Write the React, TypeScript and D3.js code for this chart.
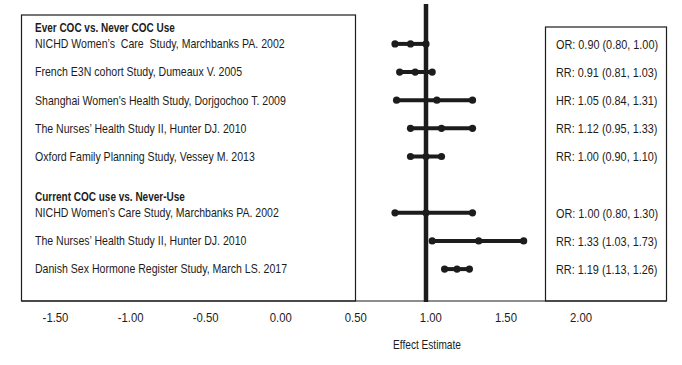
import * as d3 from 'd3'

const groupTitles = ['Ever COC vs. Never COC Use', 'Current COC use vs. Never-Use']
const studies = [
  'NICHD Women’s  Care  Study, Marchbanks PA. 2002',
  'French E3N cohort Study, Dumeaux V. 2005',
  'Shanghai Women\'s Health Study, Dorjgochoo T. 2009',
  'The Nurses’ Health Study II, Hunter DJ. 2010',
  'Oxford Family Planning Study, Vessey M. 2013',
  'NICHD Women’s Care Study, Marchbanks PA. 2002',
  'The Nurses’ Health Study II, Hunter DJ. 2010',
  'Danish Sex Hormone Register Study, March LS. 2017',
]
const studyGroup = [0, 0, 0, 0, 0, 1, 1, 1]
// plotted positions
const lower = [0.80, 0.83, 0.81, 0.90, 0.90, 0.80, 1.04, 1.12]
const point = [0.90, 0.93, 1.07, 1.10, 1.00, 1.00, 1.34, 1.20]
const upper = [1.00, 1.04, 1.30, 1.30, 1.10, 1.30, 1.63, 1.28]
const estimateLabels = [
  'OR: 0.90 (0.80, 1.00)',
  'RR: 0.91 (0.81, 1.03)',
  'HR: 1.05 (0.84, 1.31)',
  'RR: 1.12 (0.95, 1.33)',
  'RR: 1.00 (0.90, 1.10)',
  'OR: 1.00 (0.80, 1.30)',
  'RR: 1.33 (1.03, 1.73)',
  'RR: 1.19 (1.13, 1.26)',
]
const tickValues = [-1.5, -1, -0.5, 0, 0.5, 1, 1.5, 2]
const refValue = 1
const axisTitle = 'Effect Estimate'

const W = 682
const H = 365
// Liberation Sans squeezed horizontally ~ Arial Narrow look
const font = '"Liberation Sans", Arial, sans-serif'
const ink = '#1c1c1c'

type NProps = {
  x: number
  y: number
  sx: number
  size: number
  anchor?: 'start' | 'middle' | 'end'
  bold?: boolean
  central?: boolean
  children: string
}

function NText({ x, y, sx, size, anchor = 'start', bold = false, central = false, children }: NProps) {
  return (
    <text transform={`translate(${x},${y}) scale(${sx},1)`} textAnchor={anchor}
      dominantBaseline={central ? 'central' : undefined}
      fontFamily={font} fontSize={size} fontWeight={bold ? 'bold' : 'normal'} fill={ink}
      style={{ whiteSpace: 'pre' }}>{children}</text>
  )
}

export default function App() {
  // one empty slot between the two groups
  const slots = studies.map((_, i) => i + studyGroup[i])
  const nSlots = d3.max(slots) ?? 0

  const x = d3.scaleLinear().domain([0.5, 2]).range([348.5, 581])
  const xTicks = d3.scaleLinear().domain([-1.5, 2]).range([55.5, 581])
  const y = d3.scaleLinear().domain([0, nSlots]).range([43.9, 269.1])

  const box = { left: 21.5, right: 355.5, top: 15, bottom: 301 }
  const rbox = { left: 545.5, right: 666.5, top: 27 }

  const titleSlots = groupTitles.map((_, g) => d3.min(slots.filter((_, i) => studyGroup[i] === g)) ?? 0)

  return (
    <div style={{ position: 'fixed', left: 0, top: 0 }}>
      <svg width={W} height={H} style={{ display: 'block', background: '#fff' }}>
        <rect x={box.left} y={box.top} width={box.right - box.left} height={box.bottom - box.top}
          fill="none" stroke={ink} strokeWidth={1.2} />
        <rect x={rbox.left} y={rbox.top} width={rbox.right - rbox.left} height={box.bottom - rbox.top}
          fill="none" stroke={ink} strokeWidth={1.2} />
        <line x1={box.left} x2={rbox.right} y1={box.bottom} y2={box.bottom} stroke={ink} strokeWidth={1.2} />
        <line x1={x(refValue)} x2={x(refValue)} y1={4} y2={box.bottom + 1} stroke={ink} strokeWidth={4.5} />

        {groupTitles.map((t, g) => (
          <NText key={t} x={35} y={y(titleSlots[g] - 0.58)} sx={0.8} size={12.5} bold central>{t}</NText>
        ))}

        {studies.map((s, i) => (
          <g key={i}>
            <NText x={35} y={y(slots[i])} sx={0.845} size={12.5} central>{s}</NText>
            <line x1={x(lower[i])} x2={x(upper[i])} y1={y(slots[i])} y2={y(slots[i])}
              stroke={ink} strokeWidth={4} />
            {[lower[i], point[i], upper[i]].map((v, k) => (
              <circle key={k} cx={x(v)} cy={y(slots[i])} r={3.6} fill={ink} />
            ))}
            <NText x={556} y={y(slots[i])} sx={0.87} size={12.5} central>{estimateLabels[i]}</NText>
          </g>
        ))}

        {tickValues.map((v) => (
          <NText key={v} x={xTicks(v)} y={321.5} sx={0.87} size={13} anchor="middle">
            {d3.format('.2f')(v).replace('−', '-')}
          </NText>
        ))}
        <NText x={427} y={349} sx={0.81} size={12.5} anchor="middle">{axisTitle}</NText>
      </svg>
    </div>
  )
}
